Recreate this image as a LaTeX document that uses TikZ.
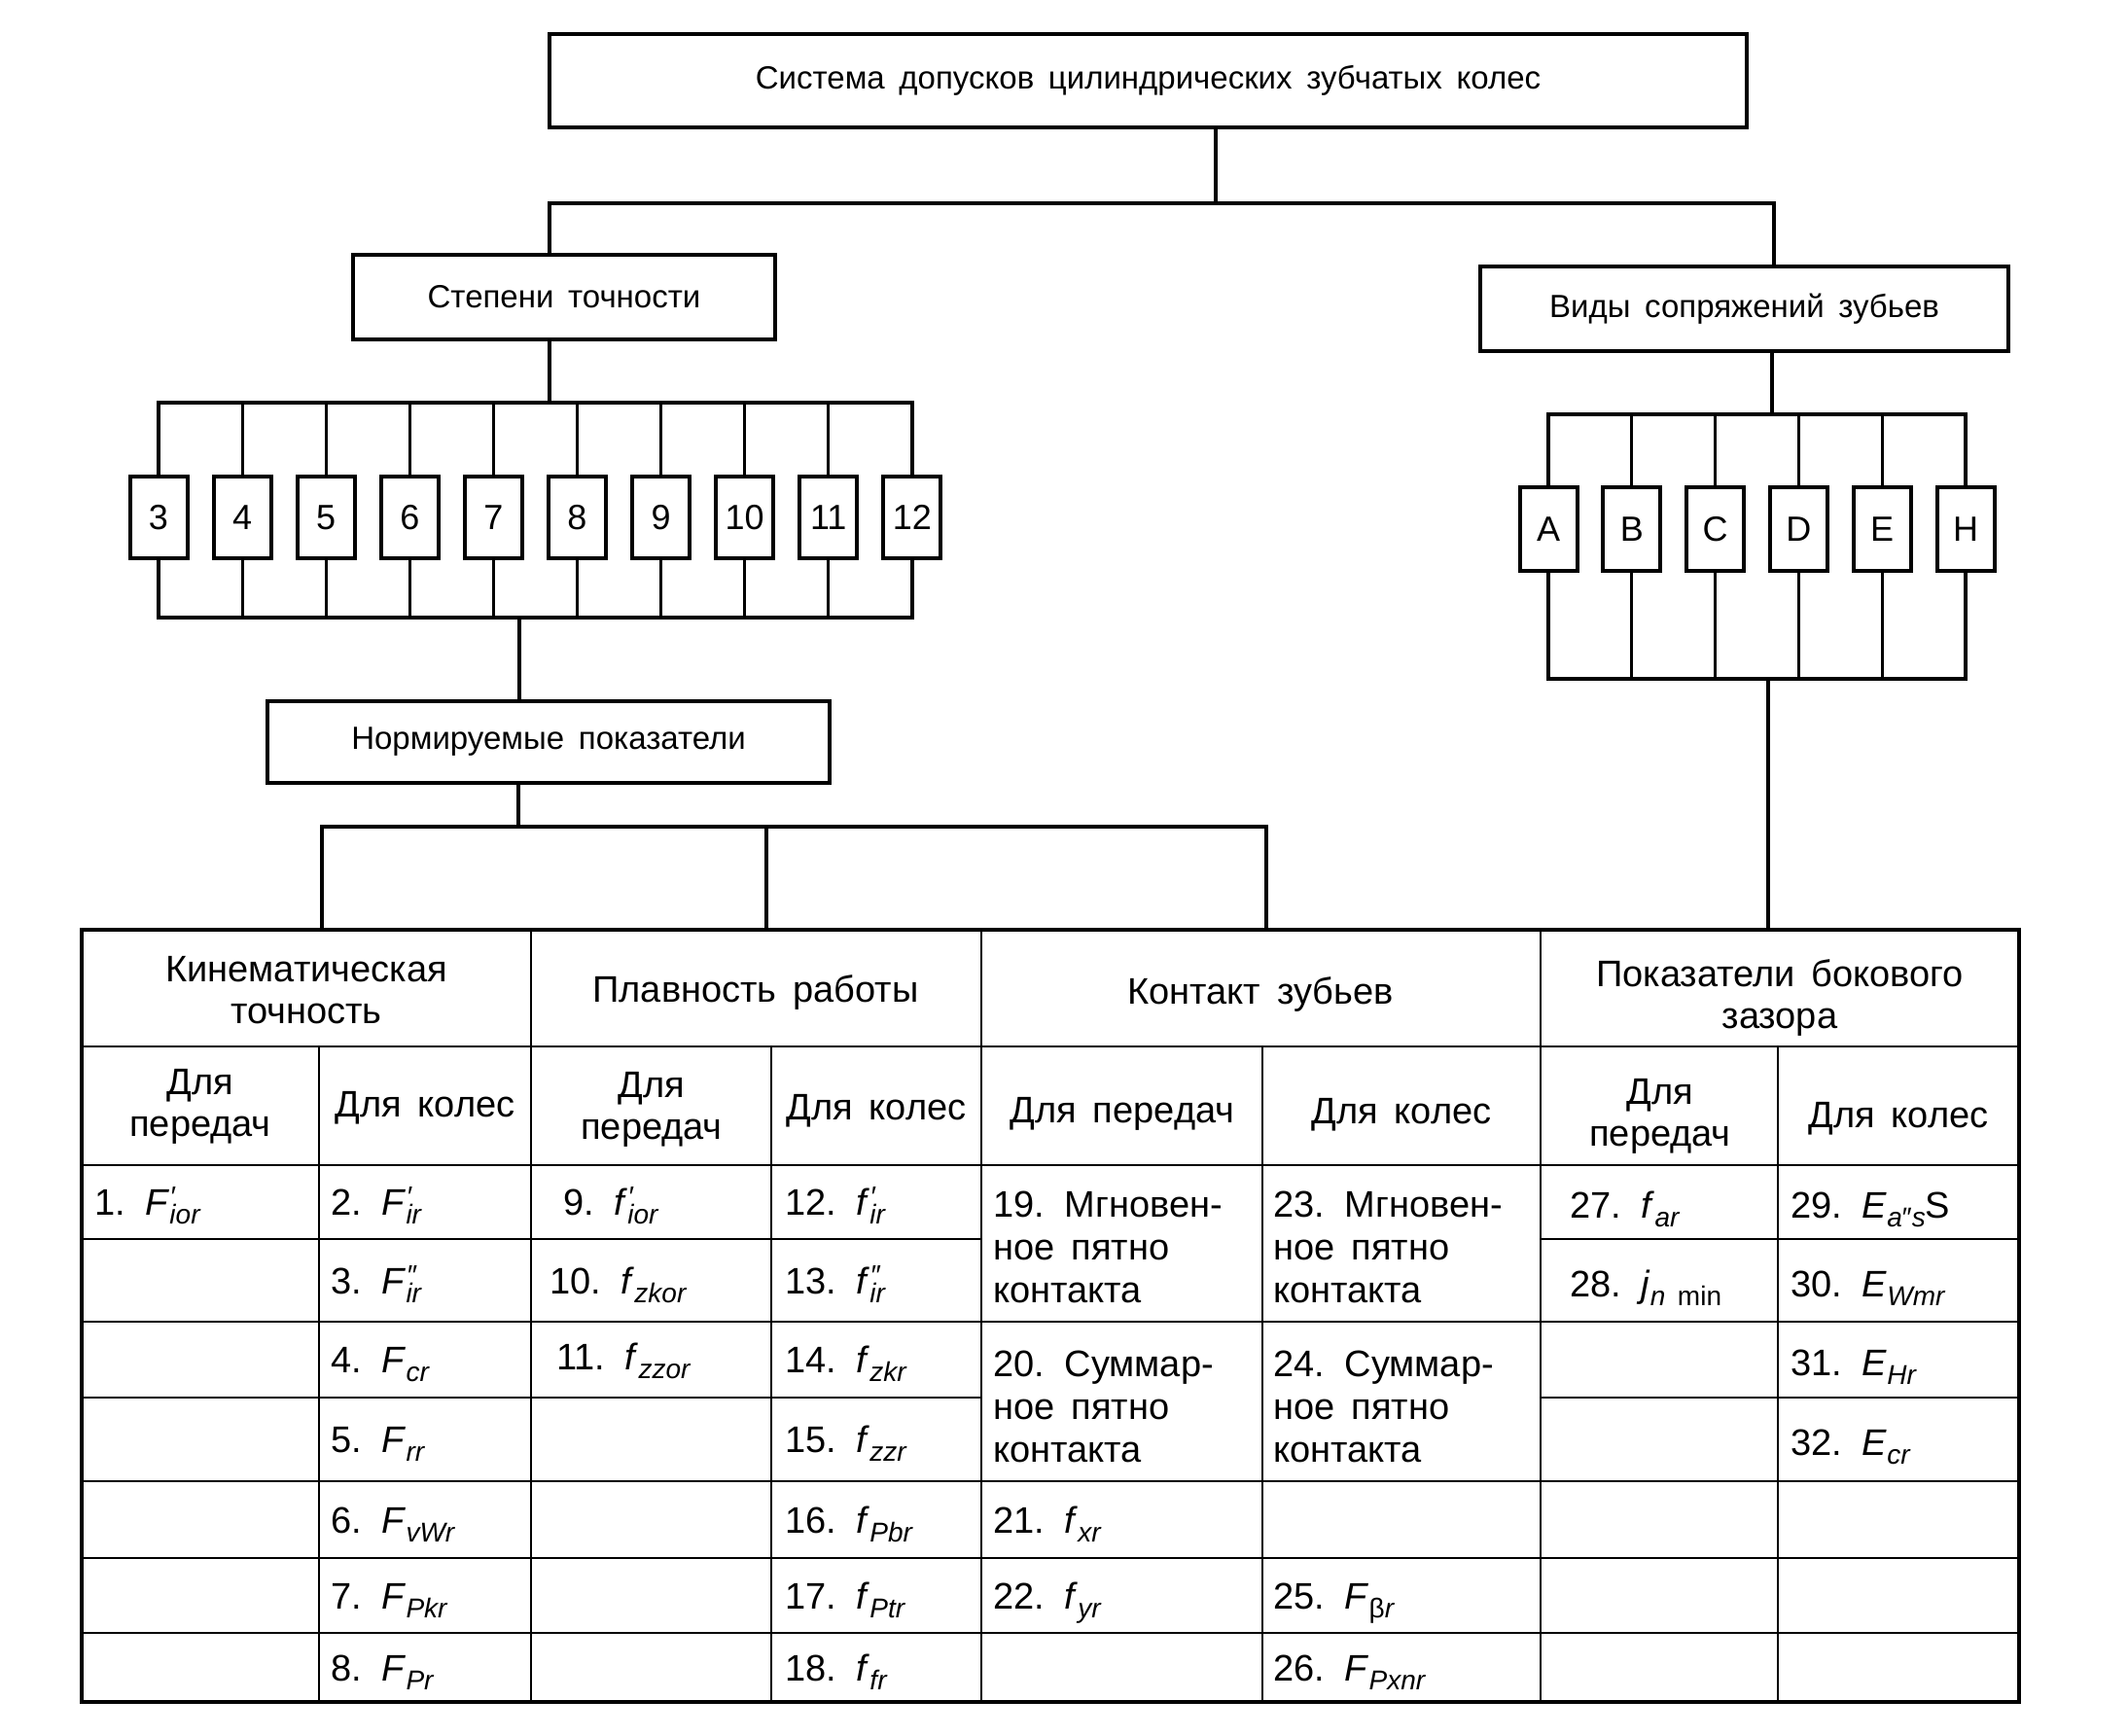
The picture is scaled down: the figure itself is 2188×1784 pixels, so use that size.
\documentclass[tikz,border=0pt]{standalone}
\usepackage{fontspec}
\setmainfont{Liberation Sans}[WordSpace=1.6]
\newcommand\lo[1]{\raisebox{-4.5pt}{\fontsize{14}{14}\selectfont\itshape #1}}
\newcommand\pl[2]{\rlap{\raisebox{4.5pt}{\fontsize{14.5}{14.5}\selectfont\itshape #1}}\lo{#2}}
\begin{document}
\begin{tikzpicture}[x=0.5pt,y=-0.5pt,
  box/.style={draw,line width=2pt,inner sep=0pt,font=\fontsize{16.5}{20}\selectfont},
  gbox/.style={draw,line width=2pt,inner sep=0pt,minimum width=29.5pt,minimum height=42pt,font=\fontsize{18}{20}\selectfont},
  lbox/.style={draw,line width=2pt,inner sep=0pt,minimum width=29.5pt,minimum height=43pt,font=\fontsize{18}{20}\selectfont},
  conn/.style={line width=1.6pt,line cap=rect},
  tline/.style={line width=1.3pt},
  tthin/.style={line width=0.9pt},
  tout/.style={line width=2.4pt},
  hd/.style={align=center,inner sep=0pt,font=\fontsize{19}{21.5}\selectfont},
  cell/.style={anchor=base west,inner sep=0pt,font=\fontsize{19}{22}\selectfont},
  mcell/.style={anchor=west,align=left,inner sep=0pt,font=\fontsize{19}{22}\selectfont}]
\useasboundingbox (0,0) rectangle (2188,1784);
\fill[white] (0,0) rectangle (2188,1784);
% main boxes
\node[box,minimum width=615.5pt,minimum height=48pt] (sys) at (1180.5,83) {Система допусков цилиндрических зубчатых колес};
\node[box,minimum width=217pt,minimum height=43.5pt] (step) at (580,305.5) {Степени точности};
\node[box,minimum width=271.5pt,minimum height=43.5pt] (vid) at (1793.5,317.5) {Виды сопряжений зубьев};
\node[box,minimum width=289pt,minimum height=42pt] (norm) at (564,763) {Нормируемые показатели};
% top bus
\coordinate (b1L) at (565,209);
\coordinate (b1M) at (1250,209);
\coordinate (b1R) at (1824,209);
\draw[conn] (sys.south -| b1M) -- (b1M);
\draw[conn] (step.north -| b1L) -- (b1L) -- (b1R) -- (vid.north -| b1R);
% accuracy grades
\foreach \t [count=\i from 0] in {3,4,5,6,7,8,9,10,11,12}
  \node[gbox] (d\t) at ({163+86.1*\i},532) {\t};
\coordinate (b2) at (565,414);
\coordinate (b3) at (534,635);
\draw[conn] (step.south -| b2) -- (b2);
\draw[conn] (d3.north) -- (d3.north |- b2) -- (d12.north |- b2) -- (d12.north);
\draw[conn] (d3.south) -- (d3.south |- b3) -- (d12.south |- b3) -- (d12.south);
\foreach \t in {4,...,11} {
  \draw[conn] (d\t.north) -- (d\t.north |- b2);
  \draw[conn] (d\t.south) -- (d\t.south |- b3);
}
\draw[conn] (b3) -- (norm.north -| b3);
% mating types
\foreach \t [count=\i from 0] in {A,B,C,D,E,H}
  \node[lbox] (l\t) at ({1592+85.8*\i},544) {\t};
\coordinate (b5) at (1822,426);
\coordinate (b6) at (1818,698);
\draw[conn] (vid.south -| b5) -- (b5);
\draw[conn] (lA.north) -- (lA.north |- b5) -- (lH.north |- b5) -- (lH.north);
\draw[conn] (lA.south) -- (lA.south |- b6) -- (lH.south |- b6) -- (lH.south);
\foreach \t in {B,C,D,E} {
  \draw[conn] (l\t.north) -- (l\t.north |- b5);
  \draw[conn] (l\t.south) -- (l\t.south |- b6);
}
\coordinate (t4) at (1818,956);
\draw[conn] (b6) -- (t4);
% norm bus
\coordinate (b4) at (533,850);
\coordinate (b4L) at (331,850);
\coordinate (b4M) at (788,850);
\coordinate (b4R) at (1302,850);
\coordinate (t1) at (331,956);
\coordinate (t2) at (788,956);
\coordinate (t3) at (1302,956);
\draw[conn] (norm.south -| b4) -- (b4);
\draw[conn] (t1) -- (b4L) -- (b4R) -- (t3);
\draw[conn] (b4M) -- (t2);
% table grid
\foreach \x in {546,1009,1584} \draw[tline] (\x,956) -- (\x,1750);
\foreach \x in {328,793,1298,1828} \draw[tthin] (\x,1076) -- (\x,1750);
\draw[tline] (84,1076) -- (2076,1076);
\draw[tline] (84,1198) -- (2076,1198);
\foreach \y in {1274,1359,1437,1523,1602,1679} {
  \draw[tline] (84,\y) -- (1009,\y);
  \draw[tline] (1584,\y) -- (2076,\y);
}
\foreach \y in {1359,1523,1602,1679} \draw[tline] (1009,\y) -- (1584,\y);
\draw[tout] (84,956) rectangle (2076,1750);
% headers
\node[hd] (h1) at (315,1018) {Кинематическая\\точность};
\node[hd] (h2) at (777,1020) {Плавность работы};
\node[hd] (h3) at (1296,1022) {Контакт зубьев};
\node[hd] (h4) at (1830,1026) {Показатели бокового\\зазора};
\node[hd] (s1) at (206,1138) {Для\\передач};
\node[hd] (s2) at (437,1139) {Для колес};
\node[hd] (s3) at (670,1141) {Для\\передач};
\node[hd] (s4) at (901,1142) {Для колес};
\node[hd] (s5) at (1154,1145) {Для передач};
\node[hd] (s6) at (1441,1146) {Для колес};
\node[hd] (s7) at (1707,1148) {Для\\передач};
\node[hd] (s8) at (1952,1150) {Для колес};
% column 1-2
\node[cell] (c1) at (97,1249) {1. \textit{F}\pl{′}{ior}};
\node[cell] (c2) at (340,1249) {2. \textit{F}\pl{′}{ir}};
\node[cell] (c3) at (340,1330) {3. \textit{F}\pl{″}{ir}};
\node[cell] (c4) at (340,1411) {4. \textit{F}\lo{cr}};
\node[cell] (c5) at (340,1493) {5. \textit{F}\lo{rr}};
\node[cell] (c6) at (340,1576) {6. \textit{F}\lo{vWr}};
\node[cell] (c7) at (340,1654) {7. \textit{F}\lo{Pkr}};
\node[cell] (c8) at (340,1728) {8. \textit{F}\lo{Pr}};
% column 3-4
\node[cell] (c9) at (579,1249) {9. \textit{f}\pl{′}{ior}};
\node[cell] (c10) at (565,1330) {10. \textit{f}\lo{zkor}};
\node[cell] (c11) at (572,1408) {11. \textit{f}\lo{zzor}};
\node[cell] (c12) at (807,1249) {12. \textit{f}\pl{′}{ir}};
\node[cell] (c13) at (807,1330) {13. \textit{f}\pl{″}{ir}};
\node[cell] (c14) at (807,1411) {14. \textit{f}\lo{zkr}};
\node[cell] (c15) at (807,1493) {15. \textit{f}\lo{zzr}};
\node[cell] (c16) at (807,1576) {16. \textit{f}\lo{Pbr}};
\node[cell] (c17) at (807,1654) {17. \textit{f}\lo{Ptr}};
\node[cell] (c18) at (807,1728) {18. \textit{f}\lo{fr}};
% column 5-6
\node[mcell] (c19) at (1021,1282) {19. Мгновен-\\ное пятно\\контакта};
\node[mcell] (c20) at (1021,1446) {20. Суммар-\\ное пятно\\контакта};
\node[cell] (c21) at (1021,1576) {21. \textit{f}\lo{xr}};
\node[cell] (c22) at (1021,1654) {22. \textit{f}\lo{yr}};
\node[mcell] (c23) at (1309,1282) {23. Мгновен-\\ное пятно\\контакта};
\node[mcell] (c24) at (1309,1446) {24. Суммар-\\ное пятно\\контакта};
\node[cell] (c25) at (1309,1654) {25. \textit{F}\lo{\upshape β\itshape r}};
\node[cell] (c26) at (1309,1728) {26. \textit{F}\lo{Pxnr}};
% column 7-8
\node[cell] (c27) at (1614,1252) {27. \textit{f}\lo{ar}};
\node[cell] (c28) at (1614,1333) {28. \textit{j}\lo{n \upshape min}};
\node[cell] (c29) at (1841,1252) {29. \textit{E}\lo{a\upshape ″\itshape s}S};
\node[cell] (c30) at (1841,1333) {30. \textit{E}\lo{Wmr}};
\node[cell] (c31) at (1841,1414) {31. \textit{E}\lo{Hr}};
\node[cell] (c32) at (1841,1496) {32. \textit{E}\lo{cr}};
\end{tikzpicture}
\end{document}
